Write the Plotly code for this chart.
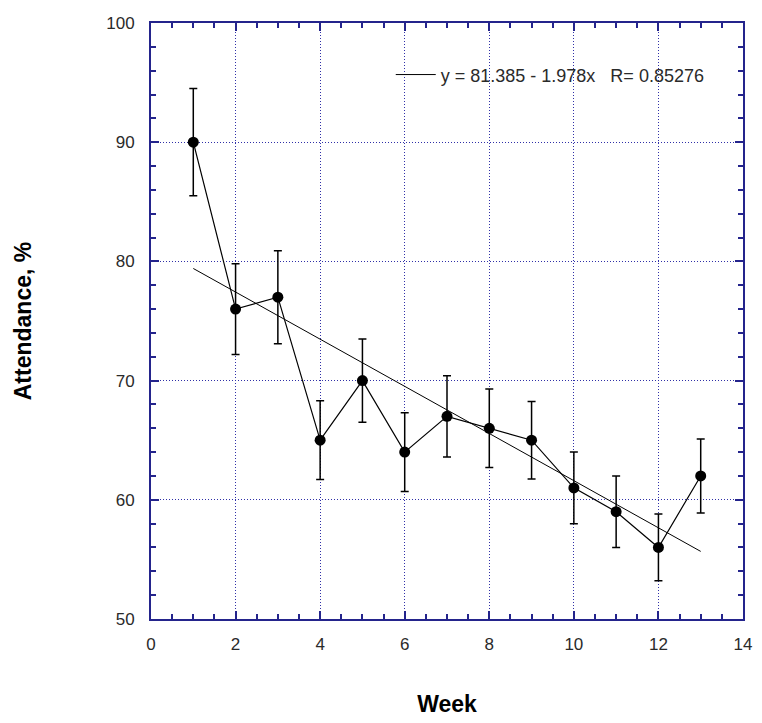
import plotly.graph_objects as go

weeks = [1, 2, 3, 4, 5, 6, 7, 8, 9, 10, 11, 12, 13]
attendance = [90, 76, 77, 65, 70, 64, 67, 66, 65, 61, 59, 56, 62]
errors = [4.5, 3.8, 3.9, 3.3, 3.5, 3.3, 3.4, 3.3, 3.25, 3.0, 3.0, 2.8, 3.1]
fit_intercept = 81.385
fit_slope = -1.978
fit_r = 0.85276
fit_x = [weeks[0], weeks[-1]]
fit_y = [fit_intercept + fit_slope * x for x in fit_x]

axis_color = "#24248c"
grid_color = "#3030a8"
text_color = "#2a2a2a"

fig = go.Figure()
fig.add_trace(go.Scatter(
    x=weeks, y=attendance, mode="lines+markers",
    line=dict(color="black", width=1.2),
    marker=dict(color="black", size=11, symbol="circle"),
    error_y=dict(type="data", array=errors, visible=True, color="black",
                 thickness=1.5, width=4),
    showlegend=False,
))
fig.add_trace(go.Scatter(
    x=fit_x, y=fit_y, mode="lines",
    line=dict(color="black", width=1),
    name="y = %.3f - %.3fx   R= %.5f" % (fit_intercept, -fit_slope, fit_r),
    showlegend=True,
))

fig.update_layout(
    width=762, height=723,
    margin=dict(l=151, r=10, t=23, b=94),
    paper_bgcolor="white", plot_bgcolor="white",
    font=dict(family="Liberation Sans, Arial, sans-serif", color=text_color, size=17),
    legend=dict(x=0.405, y=0.913, xanchor="left", yanchor="middle",
                bgcolor="rgba(0,0,0,0)", font=dict(size=18, color=text_color),
                itemwidth=40),
)
fig.update_xaxes(
    range=[0, 14], dtick=2, tick0=0,
    showline=True, linecolor=axis_color, linewidth=2, mirror="ticks",
    ticks="inside", ticklen=8, tickcolor=axis_color, tickwidth=1.5,
    showgrid=True, gridcolor=grid_color, griddash="1px,2px", gridwidth=1,
    zeroline=False, ticklabelstandoff=9,
    minor=dict(dtick=0.5, ticks="inside", ticklen=5, tickcolor=axis_color, showgrid=False),
    title=dict(text="<b>Week</b>", font=dict(size=23, color="black"), standoff=42),
)
fig.update_yaxes(
    range=[50, 100], dtick=10, tick0=50,
    showline=True, linecolor=axis_color, linewidth=2, mirror="ticks",
    ticks="inside", ticklen=8, tickcolor=axis_color, tickwidth=1.5,
    showgrid=True, gridcolor=grid_color, griddash="1px,2px", gridwidth=1,
    zeroline=False, ticklabelstandoff=11,
    minor=dict(dtick=2, ticks="inside", ticklen=5, tickcolor=axis_color, showgrid=False),
    title=dict(text="<b>Attendance, %</b>", font=dict(size=23, color="black"), standoff=68),
)

fig.write_html(
    "out.html",
    config={"displayModeBar": False},
    post_script=(
        "document.documentElement.style.margin='0';"
        "document.documentElement.style.padding='0';"
        "document.documentElement.style.overflow='hidden';"
        "document.body.style.margin='0';"
        "document.body.style.padding='0';"
        "document.body.style.overflow='hidden';"
    ),
)
